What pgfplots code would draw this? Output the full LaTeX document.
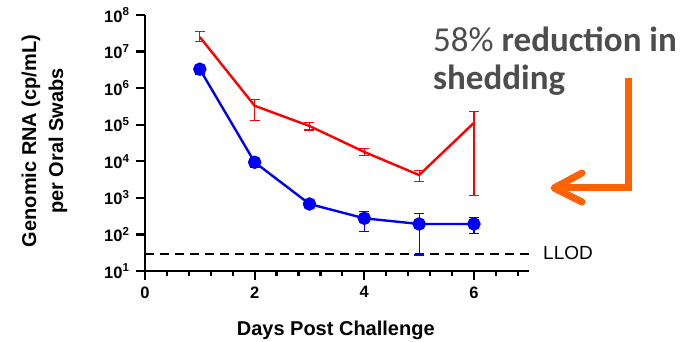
\documentclass[border=0pt]{standalone}
\usepackage{fontspec}
\setmainfont{Liberation Sans}
\newfontfamily\calfont{Carlito}
\usepackage{pgfplots}
\pgfplotsset{compat=1.18}
\usepackage{pgfplotstable}
\definecolor{arrowor}{RGB}{255,98,0}
\definecolor{anngray}{RGB}{77,77,77}
\definecolor{pblue}{RGB}{0,0,245}
\definecolor{pred}{RGB}{255,0,0}
\pgfplotsset{
  rbar/.style={draw=pred, color=pred, line width=1.2bp, mark=-, mark size=5bp, mark options={solid, draw=pred, line width=1.2bp}},
  bbar/.style={draw=pblue, color=pblue, line width=1.2bp, mark=-, mark size=5bp, mark options={solid, draw=pblue, line width=1.2bp}},
}

\pgfplotstableread{
x y
1 2.5e7
2 3.3e5
3 9.2e4
4 1.8e4
5 4.2e3
6 1.13e5
}\redtab

\pgfplotstableread{
x y
1 3.3e6
2 9.4e3
3 680
4 276
5 193
6 193
}\bluetab

\pgfplotstableread{
x y
0 30
7 30
}\llodtab

\begin{document}
\begin{tikzpicture}
\useasboundingbox (0,0) rectangle (694bp,342bp);
\begin{axis}[
  at={(145bp,71bp)}, anchor=south west,
  scale only axis,
  width=383.8bp, height=256bp,
  ymode=log,
  xmin=0, xmax=7,
  ymin=10, ymax=1e8,
  axis x line*=bottom, axis y line*=left,
  axis line style={line width=2.4bp, -},
  tick align=outside,
  major tick length=9bp,
  minor tick length=5bp,
  tick style={line width=2.2bp, black},
  xtick={0,2,4,6},
  minor xtick={0.4,0.8,1.2,1.6,2.4,2.8,3.2,3.6,4.4,4.8,5.2,5.6,6.4,6.8},
  ytick={10,100,1000,1e4,1e5,1e6,1e7,1e8},
  yminorticks=false,
  xticklabel={\pgfmathprintnumber{\tick}},
  yticklabel={10\textsuperscript{\pgfmathparse{\tick/2.302585093}\pgfmathprintnumber[fixed,precision=0]{\pgfmathresult}}},
  /pgf/number format/assume math mode=true,
  tick label style={font=\bfseries\fontsize{16.5bp}{20bp}\selectfont},
  xticklabel style={yshift=-3bp},
  yticklabel style={xshift=-3bp},
  xlabel={Days Post Challenge},
  xlabel style={at={(axis description cs:0.497,-0.25)}, anchor=base, font=\bfseries\fontsize{20bp}{24bp}\selectfont},
  ylabel={Genomic RNA (cp/mL)\\per Oral Swabs},
  ylabel style={at={(axis description cs:-0.262,0.508)}, anchor=center, align=center, font=\bfseries\fontsize{20bp}{27bp}\selectfont},
  clip=false,
]
\addplot[black, line width=2bp, dash pattern=on 9bp off 6bp] table[x=x,y=y] {\llodtab};
% red error bars (low, high)
\addplot[rbar] coordinates {(1,1.9e7) (1,3.5e7)};
\addplot[rbar] coordinates {(2,1.3e5) (2,5.0e5)};
\addplot[rbar] coordinates {(3,7.2e4) (3,1.15e5)};
\addplot[rbar] coordinates {(4,1.41e4) (4,2.24e4)};
\addplot[rbar] coordinates {(5,2.75e3) (5,5.5e3)};
\addplot[rbar] coordinates {(6,1.15e3) (6,2.3e5)};
% blue error bars (low, high)
\addplot[bbar] coordinates {(1,2.45e6) (1,3.8e6)};
\addplot[bbar] coordinates {(2,6.8e3) (2,1.12e4)};
\addplot[bbar] coordinates {(3,630) (3,730)};
\addplot[bbar] coordinates {(4,123) (4,420)};
\addplot[bbar] coordinates {(5,27.5) (5,380)};
\addplot[bbar] coordinates {(6,107) (6,290)};
\addplot[color=pred, line width=2.4bp, no markers] table[x=x, y=y] {\redtab};
\addplot[color=pblue, line width=2.4bp, mark=*, mark size=5.5bp, mark options={fill=pblue, draw=pblue}] table[x=x, y=y] {\bluetab};
\end{axis}
\node[anchor=west, inner sep=0pt, font=\fontsize{19bp}{22bp}\selectfont] at (543bp,89bp) {LLOD};
\node[anchor=base west, inner sep=0pt, text=anngray, font=\calfont\fontsize{35bp}{40bp}\selectfont] at (433bp,290bp) {58\% \textbf{reduction in}};
\node[anchor=base west, inner sep=0pt, text=anngray, font=\calfont\fontsize{35bp}{40bp}\selectfont] at (433bp,252bp) {\textbf{shedding}};
\draw[arrowor, line width=7bp] (628bp,264bp) -- (628bp,154bp) -- (558bp,154bp);
\draw[arrowor, line width=7bp, line cap=round, line join=round] (582bp,169bp) -- (554bp,154bp) -- (582bp,140bp);
\end{tikzpicture}
\end{document}
